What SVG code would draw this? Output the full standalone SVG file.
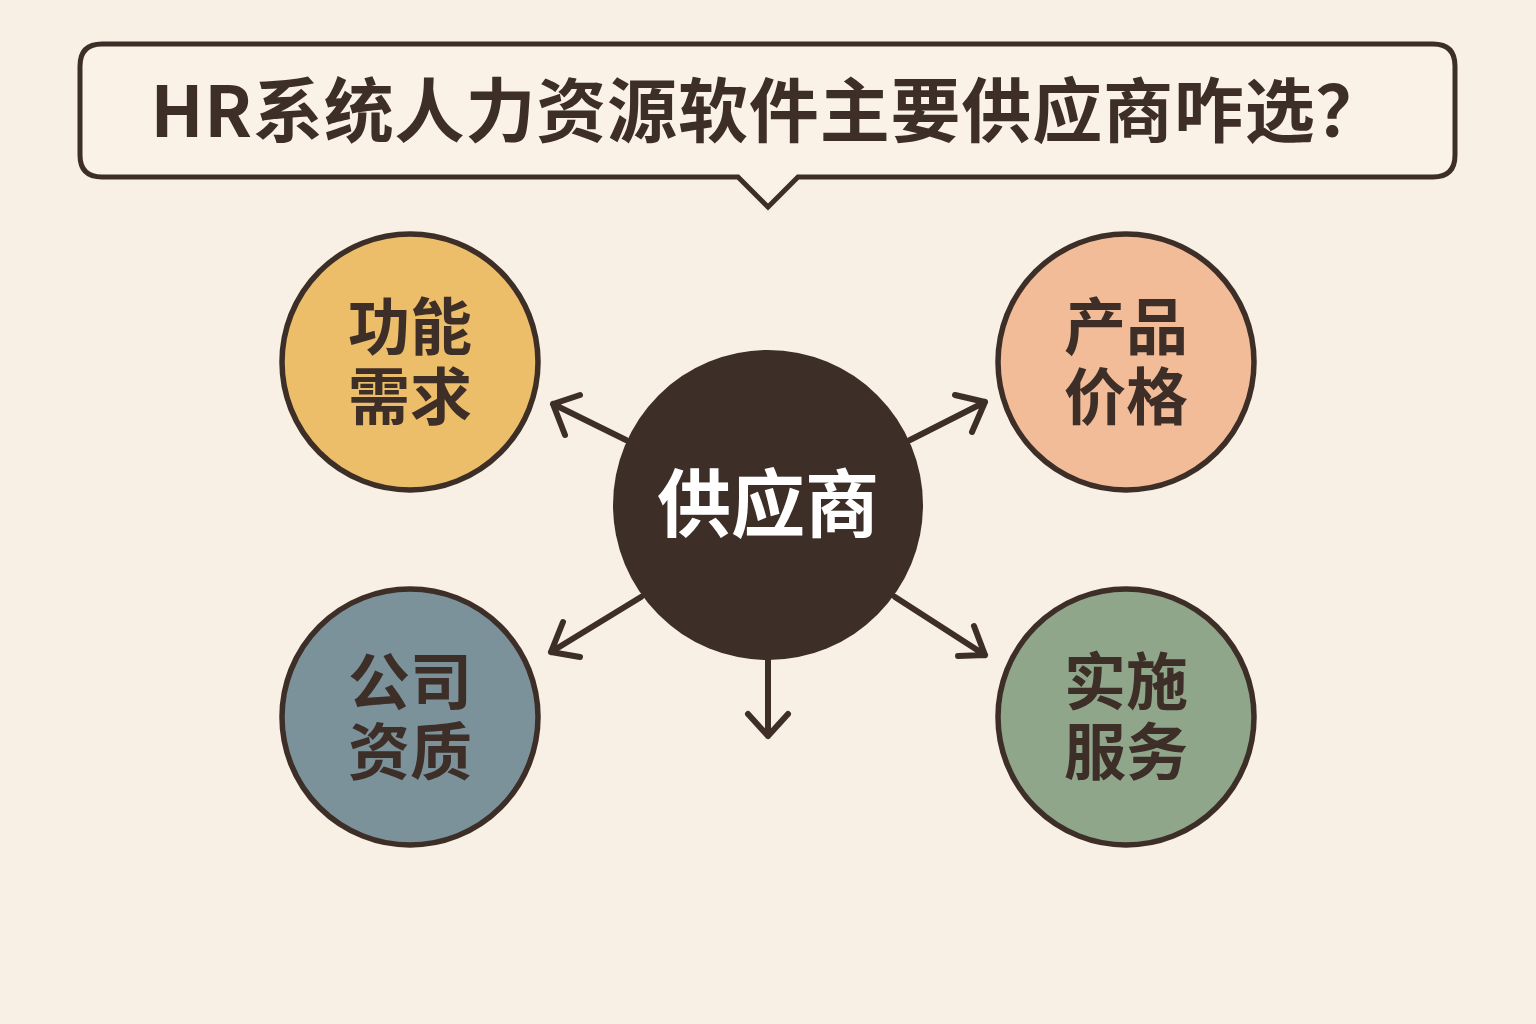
<svg xmlns="http://www.w3.org/2000/svg" width="1536" height="1024" viewBox="0 0 1536 1024">
<style>
.t{font-family:"Noto Sans CJK SC","Noto Sans",sans-serif;font-weight:700;fill:#3D2E28;text-anchor:middle}
.n{stroke:#3D2E28;stroke-width:5.5}
.c{fill:none;stroke:#3D2E28;stroke-width:6;stroke-linecap:round;stroke-linejoin:round}
</style>
<rect width="1536" height="1024" fill="#F8F0E4"/>
<g id="title">
<path d="M102,44 H1433 Q1455,44 1455,66 V155 Q1455,177 1433,177 H798 L768,207 L738,177 H102 Q80,177 80,155 V66 Q80,44 102,44 Z" fill="#FAF2E7" stroke="#3D2E28" stroke-width="5"/>
<text class="t" x="768" y="137" font-size="70" textLength="1235" lengthAdjust="spacing">HR系统人力资源软件主要供应商咋选？</text>
</g>
<g id="connectors">
<path class="c" d="M626,440 L553,404 M580,395 L553,404 L565,435"/>
<path class="c" d="M910,440 L985,402 M955,395 L985,402 L972,432"/>
<path class="c" d="M641,597 L551,652 M563,622 L551,652 L580,657"/>
<path class="c" d="M895,597 L985,655 M958,656 L985,655 L974,626"/>
<path class="c" d="M768,660 L768,736 M748,714 L768,736 L788,714"/>
</g>
<g id="n1"><circle class="n" cx="410" cy="362" r="128" fill="#ECBE6A"/>
<text class="t" font-size="62"><tspan x="410" y="350">功能</tspan><tspan x="410" y="420">需求</tspan></text></g>
<g id="n2"><circle class="n" cx="1126" cy="362" r="128" fill="#F2BC98"/>
<text class="t" font-size="62"><tspan x="1126" y="350">产品</tspan><tspan x="1126" y="420">价格</tspan></text></g>
<g id="n3"><circle class="n" cx="410" cy="717" r="128" fill="#7B929B"/>
<text class="t" font-size="62"><tspan x="410" y="705">公司</tspan><tspan x="410" y="775">资质</tspan></text></g>
<g id="n4"><circle class="n" cx="1126" cy="717" r="128" fill="#8FA68B"/>
<text class="t" font-size="62"><tspan x="1126" y="705">实施</tspan><tspan x="1126" y="775">服务</tspan></text></g>
<g id="center"><circle cx="768" cy="505" r="155" fill="#3D2E28"/>
<text class="t" x="768" y="531" font-size="74" style="fill:#FFFFFF">供应商</text></g>
</svg>
